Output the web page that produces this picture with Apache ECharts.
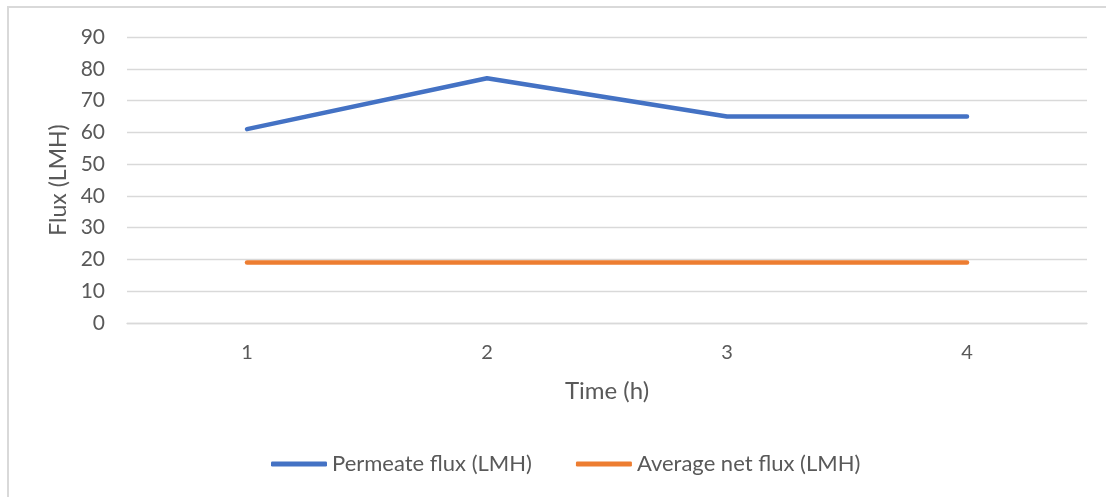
<!DOCTYPE html>
<html>
<head>
<meta charset="utf-8">
<script src="https://cdn.jsdelivr.net/npm/echarts@6/dist/echarts.min.js"></script>
<style>
  html, body { margin: 0; padding: 0; background: #fff; }
  #chart { width: 1106px; height: 497px; }
</style>
</head>
<body>
<div id="chart"></div>
<script>
// Flux measurements over time
const timeHours = ['1', '2', '3', '4'];
const permeateFlux = [61, 77, 65, 65];
const averageNetFlux = [19, 19, 19, 19];

const textColor = '#595959';
const gridColor = '#d9d9d9';
const fontFamily = 'Lato, "Open Sans", sans-serif';

const chart = echarts.init(document.getElementById('chart'), null, { renderer: 'canvas' });

chart.setOption({
  animation: false,
  backgroundColor: '#ffffff',
  textStyle: { fontFamily: fontFamily, color: textColor },
  graphic: [{
    type: 'rect',
    shape: { x: 8, y: 7, width: 1300, height: 700 },
    style: { fill: 'none', stroke: gridColor, lineWidth: 2 },
    silent: true,
    z: -1
  }],
  grid: { left: 127, right: 19, top: 37, bottom: 174 },
  legend: {
    bottom: 17,
    left: 266,
    itemWidth: 56,
    itemHeight: 5,
    itemGap: 44,
    icon: 'roundRect',
    textStyle: { fontFamily: fontFamily, fontSize: 22, color: textColor },
    data: ['Permeate flux (LMH)', 'Average net flux (LMH)']
  },
  xAxis: {
    type: 'category',
    data: timeHours,
    boundaryGap: true,
    name: 'Time (h)',
    nameLocation: 'middle',
    nameGap: 56,
    nameTextStyle: { fontFamily: fontFamily, fontSize: 24, color: textColor },
    axisLine: { show: true, lineStyle: { color: gridColor, width: 1.3 } },
    axisTick: { show: false },
    axisLabel: { margin: 20, fontSize: 20, color: textColor, fontFamily: fontFamily },
    splitLine: { show: false }
  },
  yAxis: {
    type: 'value',
    min: 0,
    max: 90,
    interval: 10,
    name: 'Flux (LMH)',
    nameLocation: 'middle',
    nameGap: 56,
    nameRotate: 90,
    nameTextStyle: { fontFamily: fontFamily, fontSize: 23, color: textColor },
    axisLine: { show: false },
    axisTick: { show: false },
    axisLabel: { margin: 22, fontSize: 21, color: textColor, fontFamily: fontFamily },
    splitLine: { show: true, lineStyle: { color: gridColor, width: 1.3 } }
  },
  series: [
    {
      name: 'Permeate flux (LMH)',
      type: 'line',
      data: permeateFlux,
      symbol: 'none',
      itemStyle: { color: '#4472c4' },
      lineStyle: { color: '#4472c4', width: 4.5, cap: 'round', join: 'round' },
      z: 3
    },
    {
      name: 'Average net flux (LMH)',
      type: 'line',
      data: averageNetFlux,
      symbol: 'none',
      itemStyle: { color: '#ed7d31' },
      lineStyle: { color: '#ed7d31', width: 4.5, cap: 'round', join: 'round' },
      z: 2
    }
  ]
});
</script>
</body>
</html>
